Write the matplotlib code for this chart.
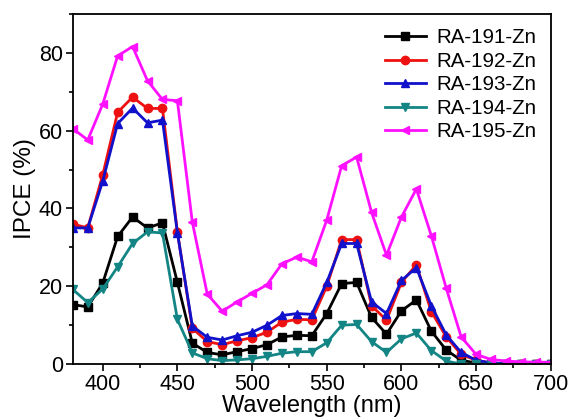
import numpy as np
import matplotlib
matplotlib.use('Agg')
from matplotlib import pyplot as plt
from matplotlib.ticker import MultipleLocator

plt.rcParams['font.family'] = ['Liberation Sans', 'DejaVu Sans']

wl = np.arange(380, 701, 10)

ra191 = [15.3, 14.7, 20.8, 32.8, 37.8, 35.0, 36.3, 21.0, 5.4, 3.0, 2.4, 3.2, 4.0, 5.0,
         7.0, 7.4, 7.3, 13.0, 20.7, 21.0, 12.0, 7.7, 13.7, 16.5, 8.5, 3.6, 1.0, 0.3,
         0.1, 0.0, 0.0, 0.0, 0.0]
ra192 = [36.0, 35.0, 48.6, 64.7, 68.6, 65.7, 65.7, 34.0, 9.2, 5.8, 5.0, 6.0, 6.8, 8.2,
         10.8, 11.5, 11.4, 20.0, 32.0, 32.0, 15.0, 11.3, 21.0, 25.5, 13.5, 7.0, 2.5,
         1.0, 0.3, 0.1, 0.0, 0.0, 0.0]
ra193 = [35.0, 35.0, 47.0, 61.8, 65.8, 62.0, 62.7, 33.8, 9.8, 6.9, 6.2, 7.3, 8.2, 10.0,
         12.5, 13.0, 12.8, 21.0, 31.0, 31.0, 16.0, 13.0, 21.5, 24.8, 15.0, 7.5, 3.0,
         1.0, 0.3, 0.1, 0.0, 0.0, 0.0]
ra194 = [19.2, 15.8, 19.3, 25.0, 31.0, 34.0, 33.7, 11.5, 2.9, 1.4, 0.9, 1.1, 1.4, 2.0,
         2.8, 3.2, 3.2, 5.5, 10.0, 10.2, 5.8, 3.0, 6.5, 8.0, 3.5, 0.8, 0.0, 0.0,
         0.0, 0.0, 0.0, 0.0, 0.0]
ra195 = [60.5, 57.6, 66.8, 79.2, 81.6, 72.8, 68.0, 67.7, 36.5, 18.0, 13.6, 16.0, 18.2,
         20.4, 25.8, 27.5, 26.3, 37.0, 51.0, 53.2, 39.0, 28.0, 37.8, 45.0, 33.0, 19.5,
         7.0, 2.5, 1.2, 0.8, 0.6, 0.5, 0.5]

labels = ['RA-191-Zn', 'RA-192-Zn', 'RA-193-Zn', 'RA-194-Zn', 'RA-195-Zn']
colors = ['#000000', '#ee1111', '#1111cc', '#148585', '#ff11ff']
markers = ['s', 'o', '^', 'v', '<']

fig = plt.figure(figsize=(5.69, 4.20), dpi=100)
ax = fig.add_axes([0.128, 0.133, 0.840, 0.834])

for y, lab, c, m in zip([ra191, ra192, ra193, ra194, ra195], labels, colors, markers):
    ax.plot(wl, y, color=c, marker=m, markersize=6, linewidth=2, label=lab)

ax.set_xlim(380, 700)
ax.set_ylim(0, 90)
ax.xaxis.set_major_locator(MultipleLocator(50))
ax.xaxis.set_minor_locator(MultipleLocator(25))
ax.yaxis.set_major_locator(MultipleLocator(20))
ax.yaxis.set_minor_locator(MultipleLocator(10))
ax.tick_params(which='both', direction='out', top=False, right=False, width=1.2)
ax.tick_params(which='major', length=5, labelsize=15.5, pad=2)
ax.tick_params(which='minor', length=3)
for s in ax.spines.values():
    s.set_linewidth(1.3)

ax.set_xlabel('Wavelength (nm)', fontsize=17, labelpad=0)
ax.set_ylabel('IPCE (%)', fontsize=17.5, labelpad=2)

ax.legend(loc='upper right', frameon=False, fontsize=14.8, handlelength=2.0,
          labelspacing=0.22, borderaxespad=0.3, handletextpad=0.5)

fig.savefig('out.png', dpi=100)
